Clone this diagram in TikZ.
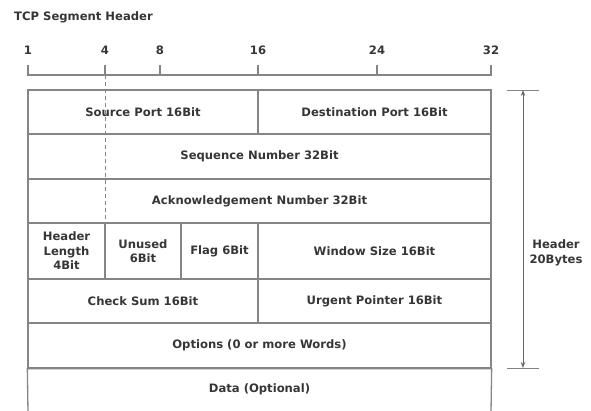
\documentclass[tikz,border=0pt]{standalone}
\usepackage{fontspec}
\setmainfont{DejaVu Sans}
\usetikzlibrary{arrows.meta}
\definecolor{rule}{HTML}{858585}
\definecolor{ink}{HTML}{363636}
\tikzset{
  cell/.style={draw=rule, line width=1.3pt, inner sep=0pt, align=center,
               text=ink, font=\bfseries\fontsize{11.6}{14.5}\selectfont},
  lbl/.style={inner sep=0pt, align=center, text=ink,
              font=\bfseries\fontsize{11.6}{14.5}\selectfont},
  rulerline/.style={draw=rule, line width=1.3pt},
  guide/.style={draw=rule, line width=1pt, dash pattern=on 4pt off 3pt},
  span/.style={draw=ink!75, line width=1pt,
               {Stealth[length=6pt,width=4.5pt]}-{Stealth[length=6pt,width=4.5pt]}}
}
\begin{document}
\begin{tikzpicture}[x=1pt,y=-1pt]
\useasboundingbox (0,0) rectangle (591,410);

% title
\node[lbl, anchor=west] (title) at (14,17) {TCP Segment Header};

% bit ruler
\coordinate (r1) at (28,75);
\coordinate (r32) at (491,75);
\draw[rulerline] (28,65) -- (r1) -- (r32) -- (491,65);
\foreach \x in {105,160,258,377}{
  \draw[rulerline] (\x,65) -- (\x,75);
}
\foreach \x/\n in {28/1,105/4,160/8,258/16,377/24,491/32}{
  \node[lbl] (b\n) at (\x,50) {\n};
}

% guide from bit 4 down to the header length field
\coordinate (g1) at (105,75);
\coordinate (g2) at (105,223);
\draw[guide] (g1) -- (g2);

% row 1
\node[cell, minimum width=230pt, minimum height=44pt] (src) at (143,112) {Source Port 16Bit};
\node[cell, minimum width=233pt, minimum height=44pt] (dst) at (374.5,112) {Destination Port 16Bit};
% row 2
\node[cell, minimum width=463pt, minimum height=45pt] (seq) at (259.5,156.5) {Sequence Number 32Bit};
% row 3
\node[cell, minimum width=463pt, minimum height=44pt] (ack) at (259.5,201) {Acknowledgement Number 32Bit};
% row 4
\node[cell, minimum width=77pt, minimum height=56pt] (hlen) at (66.5,251) {Header\\Length\\4Bit};
\node[cell, minimum width=76pt, minimum height=56pt] (unused) at (143,251) {Unused\\6Bit};
\node[cell, minimum width=77pt, minimum height=56pt] (flag) at (219.5,251) {Flag 6Bit};
\node[cell, minimum width=233pt, minimum height=56pt] (win) at (374.5,251) {Window Size 16Bit};
% row 5
\node[cell, minimum width=230pt, minimum height=44pt] (csum) at (143,301) {Check Sum 16Bit};
\node[cell, minimum width=233pt, minimum height=44pt] (urg) at (374.5,301) {Urgent Pointer 16Bit};
% row 6
\node[cell, minimum width=463pt, minimum height=45pt] (opt) at (259.5,345.5) {Options (0 or more Words)};
% data, open at the bottom
\node[lbl] (data) at (259.5,389) {Data (Optional)};
\draw[rulerline] (28,412) -- (opt.south west) -- (opt.south east) -- (491,412);

% header size marker
\coordinate (ht) at (523,90);
\coordinate (hb) at (523,368);
\draw[rulerline, line width=1pt] (507,90) -- (539,90);
\draw[rulerline, line width=1pt] (507,368) -- (539,368);
\draw[span] (ht) -- (hb);
\node[lbl] (hdr) at (556,253) {Header\\20Bytes};
\end{tikzpicture}
\end{document}
